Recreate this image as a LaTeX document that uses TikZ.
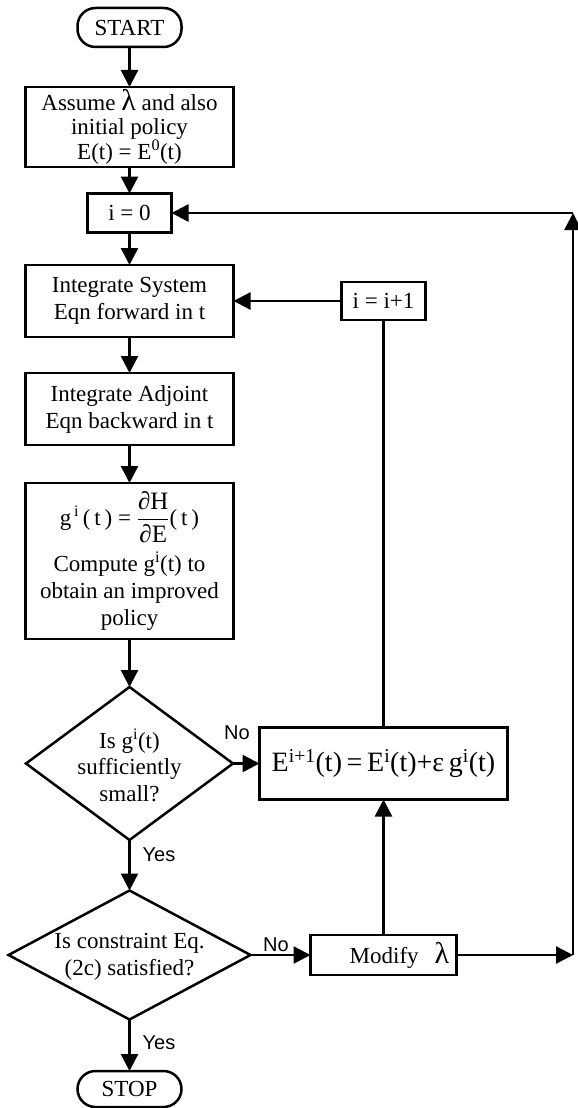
\documentclass[tikz,border=0pt]{standalone}
\usepackage{fontspec}
\usepackage{amsmath}
\setmainfont{Liberation Serif}
\newfontfamily\labfont{Liberation Sans}
\usetikzlibrary{arrows.meta,shapes.geometric}
\begin{document}
\begin{tikzpicture}[x=1pt,y=-1pt,
  every node/.style={inner sep=0pt, outer sep=0pt},
  box/.style={draw, line width=2.5pt, align=center, font=\fontsize{23}{27}\selectfont},
  term/.style={box, rounded corners=18pt},
  dia/.style={draw, diamond, line width=2.5pt, line join=miter},
  diatext/.style={align=center, font=\fontsize{23}{26.5}\selectfont},
  lab/.style={font=\labfont\fontsize{20}{20}\selectfont},
  arr/.style={line width=2.5pt, -{Triangle[length=17pt,width=17pt]}},
  ln/.style={line width=2.5pt}]
\useasboundingbox (0,0) rectangle (578,1108);

% main column
\node[term, minimum width=104pt, minimum height=39pt] (start) at (129.5,27.5) {START};
\node[box, minimum width=208pt, minimum height=80pt, font=\fontsize{23}{24}\selectfont] (assume) at (129.5,127)
  {Assume {\fontsize{30}{24}\selectfont λ} and also\\initial policy\\E(t) = E\textsuperscript{0}(t)};
\node[box, minimum width=84pt, minimum height=39pt] (i0) at (129.5,213) {i = 0};
\node[box, minimum width=208pt, minimum height=72pt] (sys) at (129.5,301)
  {Integrate System\\Eqn forward in t};
\node[box, minimum width=208pt, minimum height=72pt] (adj) at (129.5,409)
  {Integrate Adjoint\\Eqn backward in t};
\node[box, minimum width=208pt, minimum height=156pt] (g) at (129.5,561)
  {g\textsuperscript{\,i}\,(\,t\,) = $\dfrac{\text{\fontsize{25}{25}\selectfont ∂H}}{\text{\fontsize{25}{25}\selectfont ∂E}}$(\,t\,)\\[8pt]
   Compute g\textsuperscript{i}(t) to\\obtain an improved\\policy};
\node[dia, minimum width=207pt, minimum height=153pt] (d1) at (129.5,763.5) {};
\node[diatext] (d1t) at (129.5,765) {Is g\textsuperscript{i}(t)\\sufficiently\\small?};
\node[dia, minimum width=242pt, minimum height=129pt] (d2) at (129.5,955) {};
\node[diatext] (d2t) at (129.5,957) {Is constraint Eq.\\(2c) satisfied?};
\node[term, minimum width=104pt, minimum height=36pt] (stop) at (129.5,1089) {STOP};

% right part
\node[box, minimum width=84pt, minimum height=38pt] (inc) at (383.5,301) {i = i+1};
\node[box, minimum width=248pt, minimum height=72pt, font=\fontsize{28}{30}\selectfont] (E) at (383.5,763.5)
  {E\textsuperscript{i+1}(t)\,=\,E\textsuperscript{i}(t)+ε\,g\textsuperscript{i}(t)};
\node[box, minimum width=146pt, minimum height=40pt] (mod) at (383.5,955)
  {\hspace*{32pt}Modify\hspace{16pt}{\fontsize{30}{27}\selectfont λ}};
\coordinate (rb) at (573,955);
\coordinate (rt) at (573,213);

% connectors
\draw[arr] (start) -- (assume);
\draw[arr] (assume) -- (i0);
\draw[arr] (i0) -- (sys);
\draw[arr] (sys) -- (adj);
\draw[arr] (adj) -- (g);
\draw[arr] (g) -- (d1.north);
\draw[arr] (d1.south) -- (d2.north);
\draw[arr] (d2.south) -- (stop);
\draw[arr] (d1.east) -- (E.west);
\draw[arr] (d2.east) -- (mod.west);
\draw[arr] (mod) -- (E);
\draw[ln] (E) -- (inc);
\draw[arr] (inc) -- (sys);
\draw[arr] (mod) -- (rb);
\draw[arr] (rb) -- (rt);
\draw[arr] (rt) -- (i0);

% labels
\node[lab] (no1) at (237,733) {No};
\node[lab] (no2) at (276,945) {No};
\node[lab] (yes1) at (159,855) {Yes};
\node[lab] (yes2) at (159,1043) {Yes};
\end{tikzpicture}
\end{document}
